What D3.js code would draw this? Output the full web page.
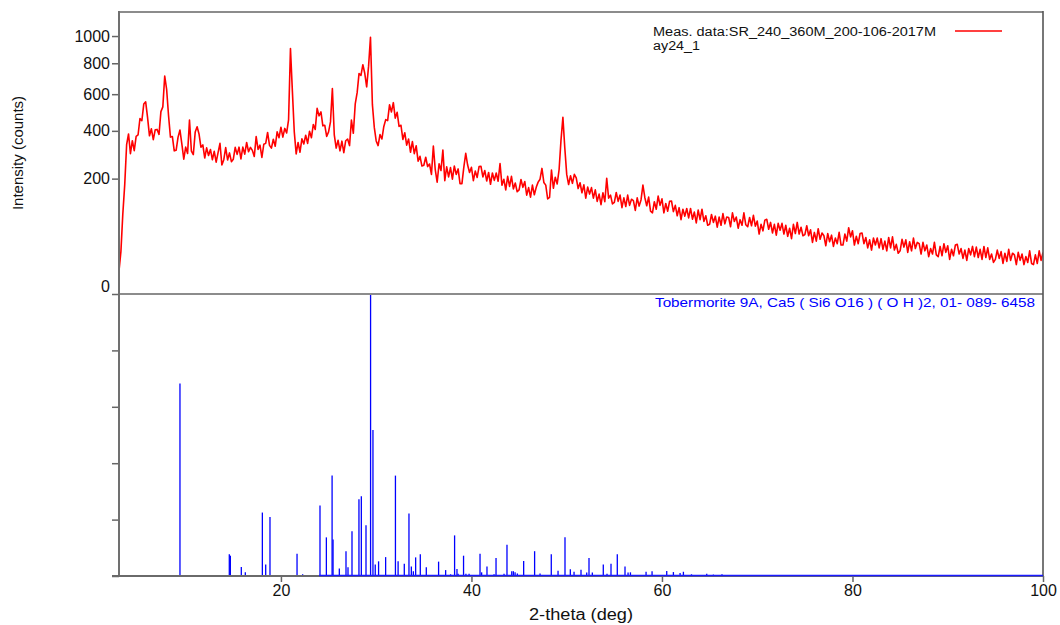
<!DOCTYPE html>
<html>
<head>
<meta charset="utf-8">
<script src="https://cdn.jsdelivr.net/npm/d3@7"></script>
<style>
  html, body { margin: 0; padding: 0; background: #fff; }
  svg { display: block; font-family: "Liberation Sans", Arial, sans-serif; }
</style>
</head>
<body>
<svg id="chart" width="1060" height="625"></svg>
<script>
// ---- Measured scan: start angle, step, and counts per step (2-theta, deg) ----
const scanStart = 3.0;
const scanStep = 0.2;
const counts = [
  8,27,96,179,335,385,296,353,309,373,
  380,463,451,542,555,467,376,410,358,405,
  407,383,500,526,714,630,479,370,373,308,
  311,370,404,338,273,324,297,455,307,292,
  394,420,385,324,334,278,321,288,314,271,
  306,261,300,341,250,271,322,270,299,263,
  273,323,293,324,274,324,294,345,304,323,
  310,284,372,314,333,280,337,341,392,332,
  320,360,328,395,367,418,370,412,390,455,
  906,620,395,295,345,302,362,338,379,341,
  398,367,432,407,518,477,498,425,428,373,
  395,445,635,380,320,355,308,351,300,353,
  361,331,455,388,543,609,731,718,790,732,
  645,780,990,540,417,352,331,382,361,422,
  457,452,538,498,550,465,496,422,428,359,
  391,333,361,302,349,296,330,265,285,246,
  249,281,244,254,215,329,232,188,255,229,
  311,193,243,206,240,198,246,215,235,183,
  183,242,297,250,222,241,193,227,204,244,
  245,206,229,192,222,181,220,194,220,191,
  256,178,198,163,208,174,208,166,185,157,
  163,197,171,190,147,170,141,178,148,171,
  188,198,237,187,178,136,140,231,168,205,
  182,232,356,469,320,215,180,210,184,215,
  203,167,186,154,179,138,172,150,170,138,
  163,129,150,120,154,128,201,138,147,122,
  126,155,129,147,112,139,115,147,118,135,
  131,105,139,116,133,178,140,117,141,103,
  99,128,108,144,118,136,99,123,103,129,
  130,102,118,92,112,83,108,91,110,87,
  110,84,101,76,106,83,108,79,92,71,
  73,95,77,91,67,89,71,97,74,89,
  88,68,99,79,89,65,83,71,99,72,
  68,88,70,93,69,80,54,73,60,82,
  84,63,77,56,73,52,75,61,75,54,
  71,50,65,46,73,55,77,54,67,51,
  53,70,51,62,40,57,42,64,45,56,
  51,35,55,41,52,34,47,38,57,36,
  36,54,42,66,49,60,36,50,38,55,
  56,38,48,32,44,29,47,36,47,32,
  46,30,42,28,48,32,49,29,37,25,
  28,45,33,44,26,41,28,47,31,40,
  38,24,40,28,36,21,31,24,40,23,
  21,34,22,38,26,35,18,30,22,36,
  37,24,31,19,29,17,31,23,34,21,
  33,20,30,18,34,20,32,18,24,15,
  18,29,19,27,14,25,16,30,17,25,
  23,13,26,17,24,13,21,15,28,14,
  13,23,14,28,17,26
];

// ---- Reference card: reflection positions (2-theta) and relative intensities ----
const refPos = [9.40,14.58,14.69,15.84,16.26,18.05,18.40,18.85,21.69,22.28,
  24.10,24.77,25.37,25.47,26.13,26.83,27.04,27.46,28.19,28.44,
  28.93,29.41,29.66,29.90,30.25,30.99,32.02,32.30,32.95,33.44,
  33.69,33.90,34.14,34.63,35.26,36.55,37.29,37.81,38.23,38.48,
  38.60,39.17,39.42,39.75,40.90,41.07,41.63,42.37,42.58,43.42,
  43.73,44.23,44.40,44.58,44.82,45.48,46.63,47.20,48.38,49.09,
  49.82,50.38,50.77,51.50,52.10,52.34,52.69,53.84,54.23,54.65,
  55.31,56.12,56.44,56.69,58.33,58.96,60.50,61.20,61.90,62.25,
  63.10,64.70,65.40,66.30];
const refInt = [68.3,7.7,7.2,3.2,1.3,22.5,4.1,20.9,7.9,0.6,
  25.0,13.7,35.6,12.9,2.7,8.8,3.1,15.9,27.2,28.3,
  18.0,100,51.8,4.1,5.2,6.7,35.6,5.2,4.3,22.2,
  3.4,1.7,6.6,7.7,3.1,5.1,2.1,0.6,14.4,2.5,
  0.8,7.2,0.8,0.8,7.9,1.3,3.4,0.6,6.4,0.8,
  11.1,1.7,1.7,1.3,0.9,5.3,8.8,0.9,7.7,1.9,
  13.7,2.4,1.5,2.2,1.2,6.4,1.2,4.1,0.8,4.3,
  7.7,3.4,1.2,1.3,1.5,1.7,1.8,1.4,1.1,1.5,
  0.6,0.8,0.5,0.6];
const cardBaseline = [24, 100];

// ---- Axis ticks and labels ----
const angleDomain = [3, 100];
const angleTicks = [20, 40, 60, 80, 100];
const countDomain = [0, 1195];
const countTicks = [0, 200, 400, 600, 800, 1000];
const relDomain = [0, 100];
const relTicks = [0, 20, 40, 60, 80];
const measLabel = ["Meas. data:SR_240_360M_200-106-2017M", "ay24_1"];
const phaseLabel = "Tobermorite 9A, Ca5 ( Si6 O16 ) ( O H )2, 01- 089- 6458";
const xTitle = "2-theta (deg)";
const yTitle = "Intensity (counts)";

// ---- Layout ----
const L = 119, R = 1043, T = 12, M = 294, B = 576;
const svg = d3.select("#chart");

const x = d3.scaleLinear().domain(angleDomain).range([L, R]);
const yTop = d3.scaleSqrt().domain(countDomain).range([M, T]);
const yBot = d3.scaleLinear().domain(relDomain).range([B, M]);

svg.append("defs").append("clipPath").attr("id", "topClip")
  .append("rect").attr("x", L).attr("y", T).attr("width", R - L).attr("height", M - T);

// Reference card sticks
const sticks = svg.append("g");
sticks.selectAll("line.stick")
  .data(refPos.map((p, i) => ({ p, v: refInt[i] })))
  .join("line")
  .attr("class", "stick")
  .attr("x1", d => x(d.p)).attr("x2", d => x(d.p))
  .attr("y1", yBot(0)).attr("y2", d => yBot(d.v))
  .attr("stroke", "#0000ff").attr("stroke-width", 1.3);

// Measured pattern
const scan = counts.map((c, i) => ({ a: scanStart + i * scanStep, c }));
svg.append("path")
  .datum(scan)
  .attr("clip-path", "url(#topClip)")
  .attr("fill", "none")
  .attr("stroke", "#ff0000")
  .attr("stroke-width", 1.6)
  .attr("stroke-linejoin", "round")
  .attr("d", d3.line().x(d => x(d.a)).y(d => yTop(d.c)));

// Frame
const frame = svg.append("g").attr("fill", "none");
frame.append("line").attr("x1", L).attr("x2", R).attr("y1", T).attr("y2", T)
  .attr("stroke", "#8c8c8c").attr("stroke-width", 2);
frame.append("line").attr("x1", L).attr("x2", R).attr("y1", M).attr("y2", M)
  .attr("stroke", "#8c8c8c").attr("stroke-width", 2);
frame.append("line").attr("x1", R).attr("x2", R).attr("y1", T - 1).attr("y2", B)
  .attr("stroke", "#555").attr("stroke-width", 1.6);

// Axes
const tickFont = "16px";
const gTop = svg.append("g").attr("transform", `translate(${L},0)`)
  .call(d3.axisLeft(yTop).tickValues(countTicks).tickSize(7).tickPadding(2)
    .tickFormat(d3.format("d")));
const gBot = svg.append("g").attr("transform", `translate(${L},0)`)
  .call(d3.axisLeft(yBot).tickValues(relTicks).tickSize(7).tickFormat(""));
const gX = svg.append("g").attr("transform", `translate(0,${B})`)
  .call(d3.axisBottom(x).tickValues(angleTicks).tickSize(6).tickPadding(3)
    .tickFormat(d3.format("d")));

[gTop, gBot, gX].forEach(g => {
  g.select(".domain").remove();
  g.selectAll(".tick line").attr("stroke", "#666").attr("stroke-width", 1.5);
  g.selectAll(".tick text").attr("fill", "#111")
    .style("font-size", tickFont)
    .style("font-family", '"Liberation Sans", Arial, sans-serif');
});
gTop.selectAll(".tick text").filter(d => d === 0).attr("dy", "-0.18em");

// left and bottom axis lines
svg.append("line").attr("x1", L).attr("x2", L).attr("y1", T - 1).attr("y2", B + 1)
  .attr("stroke", "#707070").attr("stroke-width", 2);
svg.append("line").attr("x1", L - 7).attr("x2", R + 1).attr("y1", B).attr("y2", B)
  .attr("stroke", "#6a6a6a").attr("stroke-width", 1.8);
// card baseline drawn over the axis
svg.append("line")
  .attr("x1", x(cardBaseline[0])).attr("x2", x(cardBaseline[1]))
  .attr("y1", yBot(0) - 0.5).attr("y2", yBot(0) - 0.5)
  .attr("stroke", "#1a1aff").attr("stroke-width", 1.4);

// Titles
svg.append("text")
  .attr("x", 581).attr("y", 620)
  .attr("text-anchor", "middle")
  .attr("textLength", 104).attr("lengthAdjust", "spacingAndGlyphs")
  .style("font-size", "16px").attr("fill", "#111")
  .text(xTitle);
svg.append("text")
  .attr("transform", "translate(23,153) rotate(-90)")
  .attr("text-anchor", "middle")
  .style("font-size", "15px").attr("fill", "#111")
  .text(yTitle);

// Legend of measured data
svg.append("text").attr("x", 653).attr("y", 36)
  .attr("textLength", 283).attr("lengthAdjust", "spacingAndGlyphs")
  .style("font-size", "12.5px").attr("fill", "#111").text(measLabel[0]);
svg.append("text").attr("x", 653).attr("y", 50)
  .attr("textLength", 47).attr("lengthAdjust", "spacingAndGlyphs")
  .style("font-size", "12.5px").attr("fill", "#111").text(measLabel[1]);
svg.append("line").attr("x1", 955).attr("x2", 1002).attr("y1", 31).attr("y2", 31)
  .attr("stroke", "#ff0000").attr("stroke-width", 1.4);

// Card label
svg.append("text").attr("x", 655).attr("y", 307)
  .attr("textLength", 380).attr("lengthAdjust", "spacingAndGlyphs")
  .style("font-size", "13px").attr("fill", "#0000ff").text(phaseLabel);
</script>
</body>
</html>
